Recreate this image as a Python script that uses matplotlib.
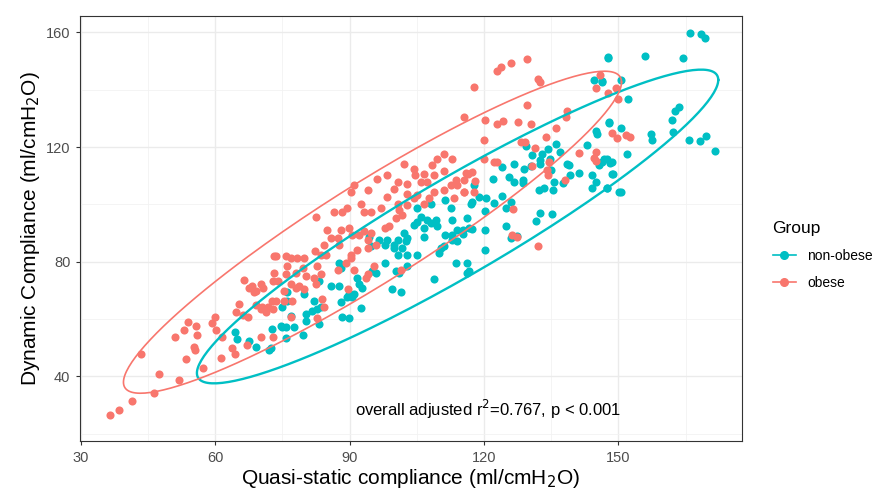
import numpy as np
import matplotlib
matplotlib.use("Agg")
import matplotlib.pyplot as plt
from matplotlib.lines import Line2D

plt.rcParams['font.family'] = ['Liberation Sans', 'DejaVu Sans']

# ---------------- data ----------------
obese = [
    (36.5,26.7),(38.4,28.3),(41.4,31.3),(46.4,34.2),(43.4,47.7),(47.4,40.7),(51.8,38.9),(53.9,59.0),
    (53.0,56.1),(51.0,53.8),(55.7,57.5),(56.0,54.4),(55.3,50.3),(55.4,49.2),(53.4,46.1),(57.2,43.1),
    (59.2,58.6),(59.9,60.7),(60.1,56.1),(61.5,53.6),(61.2,46.4),(63.8,49.8),(64.4,48.0),(65.3,65.3),
    (64.6,62.4),(66.1,61.3),(67.4,60.7),(67.0,50.9),(70.2,53.8),(72.8,53.8),(72.6,66.4),(70.5,64.1),
    (67.5,71.0),(68.6,69.3),(70.6,71.0),(69.0,64.8),(70.2,63.4),(71.7,64.1),(71.3,62.4),(73.1,82.0),
    (73.1,76.2),(66.4,73.6),(68.3,71.6),(69.0,69.9),(70.2,72.4),(72.8,73.3),
    (111.1,117.6),(112.9,115.9),(109.6,115.9),(108.5,113.6),(102.1,114.1),(104.4,112.4),(104.7,110.1),
    (106.6,110.7),(108.8,110.1),(111.1,111.8),(113.7,108.4),(112.6,106.7),(115.5,104.4),(111.1,104.9),
    (107.3,107.8),(105.9,107.8),(102.9,107.2),(102.9,103.8),(100.7,107.8),(98.4,110.1),(96.2,109.0),
    (94.0,104.9),(91.0,106.7),(90.2,104.4),(98.4,102.6),(100.7,100.3),(99.9,105.5),(96.9,98.6),
    (94.7,97.5),(93.2,97.5),(92.5,100.3),(89.5,98.6),(88.4,97.5),(86.5,97.5),(82.4,95.7),(89.9,91.7),
    (88.0,91.1),(90.6,89.4),(92.1,89.4),(93.2,90.6),(94.7,90.0),(94.0,87.7),(95.8,86.0),(98.0,91.7),
    (98.8,92.3),(100.3,95.2),(101.8,96.3),(101.0,98.0),(102.9,99.8),(104.4,102.1),(105.1,103.2),
    (106.6,100.3),(107.7,102.1),(108.8,104.4),(113.3,102.1),(114.0,106.7),(115.5,108.4),(85.0,91.1),
    (85.8,88.3),(87.3,88.3),(84.3,86.0),(83.6,82.5),(84.7,82.5),(82.3,83.7),(78.3,81.4),(79.8,81.4),
    (76.9,81.4),(75.7,82.0),(73.5,82.0),(75.7,75.6),(76.1,78.5),(78.0,76.2),(79.5,77.9),(80.2,75.0),
    (82.1,74.5),(83.6,75.6),(82.4,72.2),(76.9,72.2),(78.0,71.0),(78.7,71.6),(90.2,82.5),(90.2,81.4),
    (87.6,86.0),(91.7,84.2),(94.0,84.8),(94.0,75.6),(95.5,78.5),(82.8,78.5),(89.1,79.6),(75.4,69.9),
    (73.9,73.3),(82.8,60.4),(84.3,64.1),(83.9,67.0),(89.6,70.4),(79.8,70.4),(77.2,66.4),(76.9,60.7),
    (75.4,66.4),(73.5,66.4),(72.8,63.5),(93.6,74.5),(87.5,77.3),(91.0,77.3),(101.5,77.3),
    (129.5,150.6),(126.0,149.2),(123.7,147.8),(122.8,146.5),(132.1,143.6),(132.4,142.8),(117.8,140.8),
    (145.9,145.1),(144.9,140.5),(147.7,138.8),(149.4,140.5),(129.7,134.8),(138.6,132.7),(138.4,130.4),
    (136.0,126.7),(133.8,123.6),(115.5,130.5),(120.2,129.6),(123.0,128.2),(124.3,129.0),(127.6,128.7),
    (130.4,127.9),(120.0,122.5),(128.2,121.6),(129.1,121.8),(131.3,119.8),(122.2,114.7),(122.8,114.9),
    (119.9,115.8),(141.2,117.9),(144.5,116.1),(148.6,124.8),(149.7,123.3),(145.1,118.3),(115.9,111.0),
    (117.4,111.2),(116.5,110.5),(118.1,108.1),(115.5,104.4),(117.8,104.4),(130.8,113.4),(134.5,114.7),
    (134.0,111.9),(134.3,110.2),(138.0,108.4),(126.5,98.4),(126.3,89.2),(127.4,88.5),(132.1,85.6),
    (144.9,115.3),(149.9,136.6),(151.6,124.3),(152.5,123.6),
]
non_obese = [
    (64.4,55.5),(64.9,53.2),(67.5,52.4),(69.0,50.3),(72.0,49.2),(72.5,50.0),(72.6,56.4),(74.6,57.5),
    (75.0,64.3),(76.1,66.4),(75.0,57.2),(75.7,57.2),(77.6,57.2),(75.7,53.4),(79.5,54.6),(80.2,59.5),
    (80.2,61.8),(81.7,62.9),(82.8,63.5),(82.1,66.4),(83.2,58.4),(83.6,64.1),(88.4,60.9),(89.9,60.3),
    (88.0,65.8),(89.5,67.6),(90.6,67.6),(92.5,63.8),(76.9,61.2),
    (108.1,100.3),(105.1,98.6),(111.4,101.5),(112.6,98.6),(112.9,94.6),(109.2,94.6),(108.1,93.4),
    (107.3,94.6),(105.9,95.7),(105.1,94.0),(106.6,91.7),(106.6,88.8),(109.6,92.3),(111.4,89.4),
    (112.9,89.4),(114.0,91.1),(115.2,91.1),(116.6,91.7),(117.0,100.3),(104.4,92.9),(102.1,90.0),
    (102.9,88.3),(102.5,87.1),(100.7,87.7),(98.4,87.7),(99.9,86.0),(99.9,84.8),(101.8,84.8),(98.0,86.0),
    (94.7,85.4),(96.6,87.7),(94.3,88.8),(102.9,82.5),(105.1,82.5),(100.7,82.5),(98.0,79.6),(100.3,76.8),
    (101.0,76.2),(102.9,78.5),(95.1,76.8),(95.8,76.2),(91.7,74.5),(92.1,72.2),(92.8,71.0),(89.9,68.7),
    (91.0,68.7),(87.6,79.6),(88.0,77.9),(85.8,71.6),(87.6,71.6),(83.2,73.3),(79.8,68.7),(76.1,69.3),
    (99.5,70.5),(101.4,69.3),(108.8,73.9),(110.3,84.8),(110.0,83.1),(111.1,85.4),(112.9,87.7),
    (113.7,79.6),(116.3,76.2),(116.3,79.6),(114.0,87.1),
    (147.7,151.2),(144.5,143.4),(146.4,142.8),(147.9,128.7),(144.9,125.6),(145.3,124.4),(129.3,120.2),
    (130.8,117.2),(133.0,117.5),(134.3,119.3),(136.0,121.0),(137.0,118.3),(134.7,116.0),(132.6,115.5),
    (130.4,113.5),(126.7,114.1),(124.1,113.0),(138.6,114.1),(142.9,120.6),(147.5,116.0),(146.4,114.7),
    (148.6,114.7),(128.9,112.5),(132.6,114.2),(134.9,111.9),(139.0,113.9),(139.3,110.2),(141.2,111.1),
    (144.2,110.2),(144.9,107.9),(144.2,105.8),(147.5,105.8),(148.6,110.7),(150.1,104.4),(145.7,113.6),
    (135.6,107.9),(135.5,105.0),(133.4,105.6),(132.3,105.0),(137.7,107.6),(125.6,109.6),(126.7,107.9),
    (128.6,108.4),(128.6,107.3),(121.9,108.8),(117.8,106.7),(118.9,102.7),(120.4,102.3),(117.4,100.9),
    (122.2,100.4),(124.1,103.0),(126.0,101.0),(124.8,98.7),(120.2,97.7),(116.1,95.2),(132.6,96.9),
    (135.2,96.6),(131.5,94.1),(124.8,92.3),(126.0,88.3),(127.4,88.9),(117.4,91.5),(115.4,89.7),
    (120.2,91.2),(120.2,84.0),(116.7,76.8),
    (165.9,159.8),(168.5,159.3),(169.4,157.9),(147.6,151.3),(156.0,151.9),(164.4,151.0),(146.4,142.9),
    (150.6,143.3),(152.1,136.6),(163.5,134.1),(162.7,132.6),(162.0,129.3),(147.9,128.5),(150.5,126.5),
    (162.2,125.1),(157.2,124.5),(157.5,122.5),(165.7,122.6),(168.2,122.0),(169.6,123.7),(171.5,118.5),
    (151.9,117.6),(146.7,115.7),(148.2,114.5),(148.8,110.7),(147.5,105.7),(150.5,104.4),
]
groups = ["non-obese", "obese"]
colors = {"non-obese": "#00BFC4", "obese": "#F8766D"}
# 95% ellipses: centre and shape matrix (sxx, sxy, syy)
ellipse_center = {"non-obese": (114.1, 92.3), "obese": (95.1, 90.3)}
ellipse_shape = {"non-obese": (3387.0, 2974.0, 2992.0), "obese": (3091.0, 2908.0, 3152.0)}
annotation = "overall adjusted r$^2$=0.767, p < 0.001"
x_ticks = [30, 60, 90, 120, 150]
y_ticks = [40, 80, 120, 160]


def ellipse_path(center, shape, segments=241):
    sxx, sxy, syy = shape
    S = np.array([[sxx, sxy], [sxy, syy]])
    L = np.linalg.cholesky(S)
    t = np.linspace(0, 2 * np.pi, segments)
    circle = np.column_stack([np.cos(t), np.sin(t)])
    return np.asarray(center) + circle @ L.T


fig = plt.figure(figsize=(8.76, 4.92), dpi=100)
ax = fig.add_axes([80/876, 1 - 441/492, (742-80)/876, (441-16)/492])

data = {"non-obese": non_obese, "obese": obese}
for g in groups:
    arr = np.array(data[g])
    ax.scatter(arr[:, 0], arr[:, 1], s=34, color=colors[g], linewidths=0, zorder=3)
for g in groups:
    e = ellipse_path(ellipse_center[g], ellipse_shape[g])
    ax.plot(e[:, 0], e[:, 1], color=colors[g], lw=1.7 if g == "non-obese" else 1.2, zorder=4)

ax.set_xlim(29.8, 177.6)
ax.set_ylim(17.5, 165.7)
ax.set_xticks(x_ticks)
ax.set_yticks(y_ticks)
ax.set_xticks([45, 75, 105, 135, 165], minor=True)
ax.set_yticks([20, 60, 100, 140], minor=True)
ax.grid(True, which='major', color='#EBEBEB', lw=1.0, zorder=0)
ax.grid(True, which='minor', color='#F2F2F2', lw=0.6, zorder=0)
ax.set_axisbelow(True)
for s in ax.spines.values():
    s.set_color('#333333')
    s.set_linewidth(0.8)
ax.tick_params(which='major', length=3, width=0.8, color='#333333', labelcolor='#4D4D4D',
               labelsize=10.5, pad=4)
ax.tick_params(which='minor', length=0)

ax.set_xlabel("Quasi-static compliance (ml/cmH$_2$O)", fontsize=15, color='black', labelpad=2)
ax.set_ylabel("Dynamic Compliance (ml/cmH$_2$O)", fontsize=15, color='black', labelpad=3)

ax.text(120.8, 28.6, annotation, ha='center', va='center', fontsize=12, color='black')

handles = [Line2D([0], [0], color=colors[g], marker='o', markersize=5.5, lw=1.2) for g in groups]
leg = fig.legend(handles, groups, loc='upper left', bbox_to_anchor=(760/876, 1 - 208/492),
                 frameon=False, title='Group', fontsize=10, title_fontsize=12.5,
                 handlelength=1.7, alignment='left', labelspacing=0.95)

fig.savefig("out.png", dpi=100)
